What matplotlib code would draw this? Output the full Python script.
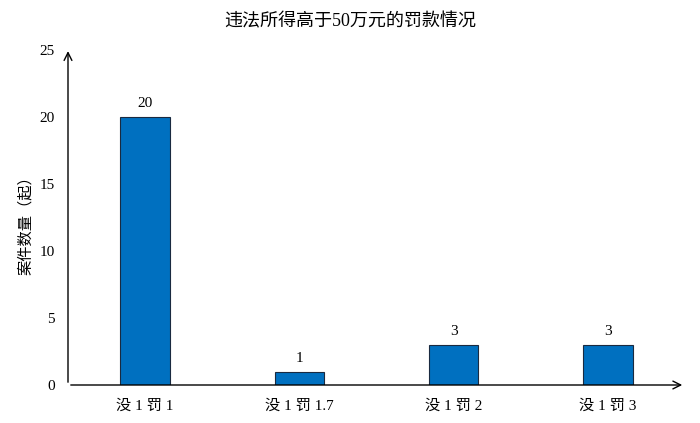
import matplotlib
matplotlib.use("Agg")
import matplotlib.pyplot as plt

# Data
categories = ["没 1 罚 1", "没 1 罚 1.7", "没 1 罚 2", "没 1 罚 3"]
counts = [20, 1, 3, 3]
yticks = [0, 5, 10, 15, 20, 25]

plt.rcParams['font.family'] = ['Liberation Serif', 'Noto Sans CJK SC']

fig = plt.figure(figsize=(7, 4.23), dpi=100)
ax = fig.add_axes([68 / 700, 38 / 423, 617 / 700, 335 / 423])

x = range(len(categories))
bars = ax.bar(x, counts, width=0.32, color='#0070C0', edgecolor='#1a2a40', linewidth=0.8)
for xi, v in zip(x, counts):
    ax.text(xi, v + 0.5, str(v), ha='center', va='bottom', fontsize=11)

ax.set_xlim(-0.5, 3.5)
ax.set_ylim(0, 25)
ax.set_xticks(list(x))
ax.set_xticklabels(categories, fontsize=11)
ax.set_yticks(yticks)
ax.set_yticklabels([str(t) for t in yticks], fontsize=11)
ax.tick_params(axis='y', length=0, pad=9.5)
ax.tick_params(axis='x', length=0, pad=10)
for s in ax.spines.values():
    s.set_visible(False)

# axis arrows
ax.annotate('', xy=(0, 1.005), xytext=(0, 0), xycoords='axes fraction',
            arrowprops=dict(arrowstyle='->', lw=1, color='black', mutation_scale=14))
ax.annotate('', xy=(1.0, 0), xytext=(0, 0), xycoords='axes fraction',
            arrowprops=dict(arrowstyle='->', lw=1, color='black', mutation_scale=14))

fig.text(26 / 700, 1 - 222 / 423, '案件数量（起）', rotation=90, ha='center', va='center', fontsize=11)
fig.text(0.5, 1 - 22 / 423, '违法所得高于50万元的罚款情况', ha='center', va='center', fontsize=13)

fig.savefig('out.png', dpi=100)
